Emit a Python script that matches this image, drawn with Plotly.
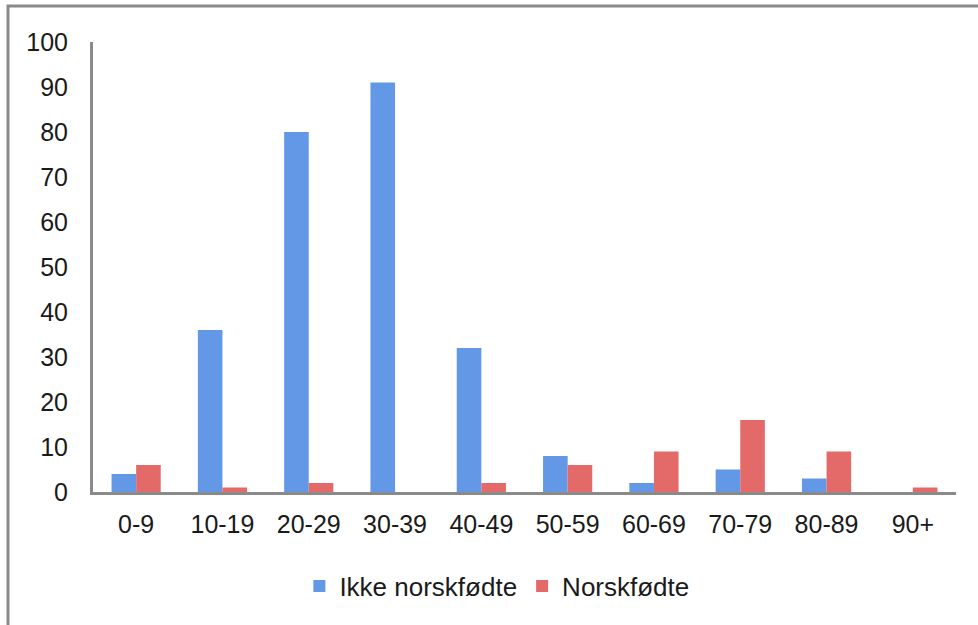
import plotly.graph_objects as go

# Age groups and counts per group
age_groups = ["0-9", "10-19", "20-29", "30-39", "40-49",
              "50-59", "60-69", "70-79", "80-89", "90+"]
ikke_norskfodte = [4, 36, 80, 91, 32, 8, 2, 5, 3, 0]
norskfodte = [6, 1, 2, 0, 2, 6, 9, 16, 9, 1]

y_ticks = [0, 10, 20, 30, 40, 50, 60, 70, 80, 90, 100]

FONT = "Liberation Sans, Arial, Helvetica, sans-serif"
AXIS_GREY = "#8a8a8a"
TEXT = "#1a1a1a"

fig = go.Figure()
fig.add_trace(go.Bar(
    x=age_groups, y=ikke_norskfodte, name="Ikke norskfødte",
    marker=dict(color="#6298e6", line=dict(width=0)),
))
fig.add_trace(go.Bar(
    x=age_groups, y=norskfodte, name="Norskfødte",
    marker=dict(color="#e46a6a", line=dict(width=0)),
))

W, H = 978, 625
ml, mr, mt, mb = 93, 22, 42, 133
pw, ph = W - ml - mr, H - mt - mb

fig.update_layout(
    width=W, height=H,
    margin=dict(l=ml, r=mr, t=mt, b=mb, pad=0),
    paper_bgcolor="white", plot_bgcolor="white",
    barmode="group", bargap=0.43, bargroupgap=0,
    font=dict(family=FONT, size=25, color=TEXT),
    showlegend=True,
    legend=dict(
        orientation="h", x=0.468, xanchor="center",
        y=-0.209, yanchor="middle",
        font=dict(family=FONT, size=26, color=TEXT),
        itemwidth=30, bgcolor="rgba(0,0,0,0)",
    ),
    xaxis=dict(
        type="category", showgrid=False, zeroline=False,
        showline=True, linecolor=AXIS_GREY, linewidth=3,
        ticks="", ticklabelstandoff=8,
        tickfont=dict(family=FONT, size=25, color=TEXT),
    ),
    yaxis=dict(
        range=[0, 100], tickvals=y_ticks, showgrid=False, zeroline=False,
        showline=True, linecolor=AXIS_GREY, linewidth=3,
        ticks="", ticklabelstandoff=17,
        tickfont=dict(family=FONT, size=25, color=TEXT),
    ),
)

# Outer frame of the chart area (top and left edges visible)
fig.add_shape(
    type="rect", xref="paper", yref="paper",
    x0=(8 - ml) / pw, x1=1.2,
    y0=(H - mb - 6) / ph, y1=-0.5,
    line=dict(color=AXIS_GREY, width=3), fillcolor="rgba(0,0,0,0)",
    layer="below",
)

fig.write_html("out.html")
